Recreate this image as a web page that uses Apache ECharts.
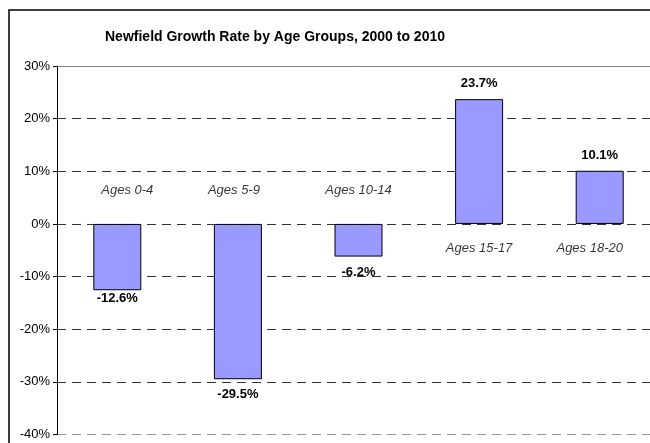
<!DOCTYPE html>
<html><head><meta charset="utf-8">
<script src="https://cdn.jsdelivr.net/npm/echarts@6/dist/echarts.min.js"></script>
<style>html,body{margin:0;padding:0;background:#fff}#c{width:650px;height:443px}</style>
</head><body><div id="c"></div>
<script>
const titleText = 'Newfield Growth Rate by Age Groups, 2000 to 2010';
const categories = ['Ages 0-4', 'Ages 5-9', 'Ages 10-14', 'Ages 15-17', 'Ages 18-20'];
const growthRates = [-12.6, -29.5, -6.2, 23.7, 10.1];
const yTicks = [-40, -30, -20, -10, 0, 10, 20, 30];

const negDist = [2, 9, 9];
const barData = growthRates.map((v, i) => ({
  value: v,
  label: {
    position: v >= 0 ? 'top' : 'bottom',
    distance: v >= 0 ? 9 : (negDist[i] !== undefined ? negDist[i] : 8)
  }
}));
const catOffsets = [[10, 0], [-4, 0], [0, 0], [0, 0], [-10, 0]];
const catData = categories.map((c, i) => ({
  value: [i, 0],
  label: {
    formatter: c,
    position: growthRates[i] < 0 ? 'top' : 'bottom',
    distance: growthRates[i] < 0 ? 27 : 18,
    offset: catOffsets[i]
  }
}));
const gridColors = yTicks.map((t, i) => i === 0 ? '#9a9a9a' : '#333');

const chart = echarts.init(document.getElementById('c'), null, {renderer: 'canvas'});
chart.setOption({
  animation: false,
  backgroundColor: '#fff',
  textStyle: {fontFamily: 'Liberation Sans, Arial, sans-serif'},
  title: {
    text: titleText,
    left: 270, top: 25, textAlign: 'center',
    textStyle: {fontSize: 14, fontWeight: 'bold', color: '#000', fontFamily: 'Liberation Sans, Arial, sans-serif'}
  },
  graphic: [{
    type: 'rect', shape: {x: 9, y: 10, width: 700, height: 500},
    style: {fill: 'none', stroke: '#000', lineWidth: 1.5}, silent: true
  }],
  grid: {left: 57, top: 66, width: 603, bottom: 8.5, containLabel: false, outerBoundsMode: 'none'},
  xAxis: {
    type: 'category', data: categories, position: 'top',
    axisLine: {show: true, onZero: false, lineStyle: {color: '#808080', width: 1}},
    axisTick: {show: false}, axisLabel: {show: false}, splitLine: {show: false}
  },
  yAxis: {
    type: 'value', min: -40, max: 30, interval: 10,
    axisLine: {show: true, lineStyle: {color: '#000', width: 1}},
    axisTick: {show: true, length: 4, inside: false, lineStyle: {color: '#000'}},
    axisLabel: {formatter: v => v + '%', fontSize: 13, color: '#000', margin: 7},
    splitLine: {show: true, showMaxLine: false, lineStyle: {color: gridColors, type: [9, 6], width: 1}}
  },
  series: [{
    type: 'bar', data: barData, barWidth: 48,
    itemStyle: {color: '#9999FF', borderColor: '#000', borderWidth: 1},
    label: {show: true, formatter: p => p.value.toFixed(1) + '%', fontSize: 13, fontWeight: 'bold', color: '#000'},
    z: 3
  }, {
    type: 'scatter', data: catData, symbolSize: 0, silent: true,
    label: {show: true, fontSize: 13, fontStyle: 'italic', color: '#000'},
    z: 4
  }]
});
</script></body></html>
